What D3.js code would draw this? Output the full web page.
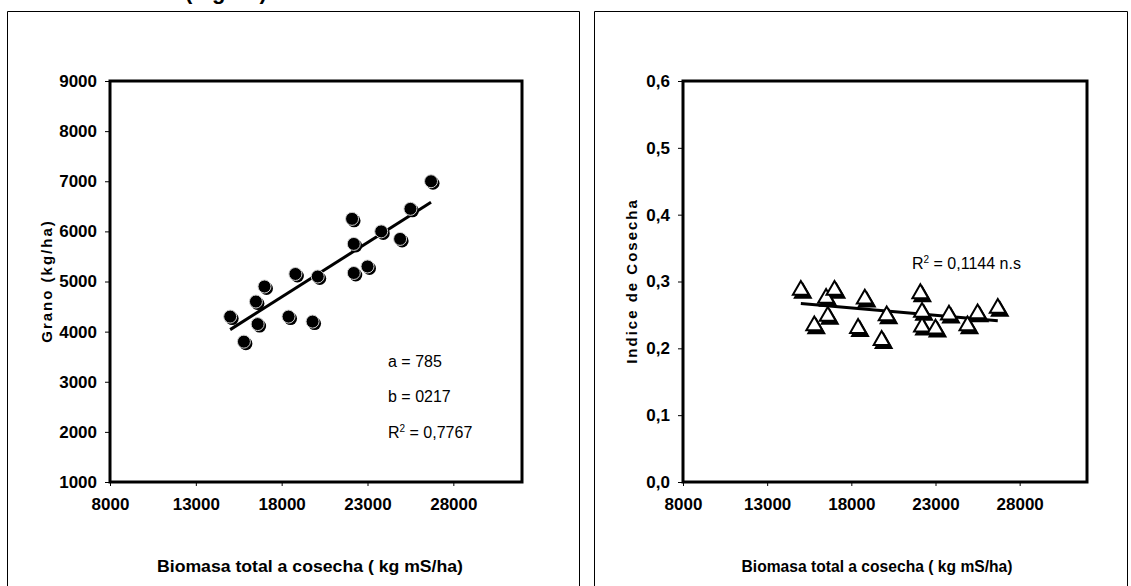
<!DOCTYPE html>
<html>
<head>
<meta charset="utf-8">
<title>Grano e Indice de Cosecha vs Biomasa</title>
<script src="https://d3js.org/d3.v7.min.js"></script>
<style>
body { margin: 0; background: #fff; }
text { font-family: "Liberation Sans Narrow", "Arial Narrow", "Liberation Sans", Arial, sans-serif; }
</style>
</head>
<body>
<svg id="svgMain" width="1131" height="586"></svg>
<script>
// data
const biomasa = [15000, 15800, 16600, 16500, 17000, 18400, 18800, 19800, 20100, 22100, 22200, 22200, 23000, 23800, 24900, 25500, 26700];
const grano   = [4300, 3800, 4150, 4600, 4900, 4300, 5150, 4200, 5100, 6250, 5750, 5170, 5300, 6000, 5850, 6450, 7000];
const indice  = [0.287, 0.234, 0.248, 0.275, 0.287, 0.230, 0.274, 0.212, 0.249, 0.282, 0.254, 0.232, 0.229, 0.250, 0.234, 0.252, 0.260];

// regression y = a + b*x
const granoFit  = [785, 0.217];
const indiceFit = [0.300, -0.0000022];

const xTicks = [8000, 13000, 18000, 23000, 28000];
const granoTicks = [1000, 2000, 3000, 4000, 5000, 6000, 7000, 8000, 9000];
const indiceTicks = [0, 0.1, 0.2, 0.3, 0.4, 0.5, 0.6];

const granoNotes = ['a = 785', 'b = 0217'];
const granoR2 = '0,7767';
const indiceR2 = '0,1144 n.s';

const svg = d3.select('#svgMain');

// caption, cut off at the top of the page
svg.append('text')
  .attr('x', 185).attr('y', -1)
  .style('font-family', 'Liberation Sans, Arial')
  .style('font-weight', 'bold')
  .style('font-size', '22px')
  .text('(Figura)');

// outer frames of the two panels
svg.append('path')
  .attr('d', 'M7.5,586 V11.5 H579.5 V586')
  .attr('fill', 'none').attr('stroke', '#000').attr('stroke-width', 1);
svg.append('path')
  .attr('d', 'M594.5,586 V11.5 H1127.5 V586')
  .attr('fill', 'none').attr('stroke', '#000').attr('stroke-width', 1);

function drawPanel(o) {
  const xs = d3.scaleLinear().domain([8000, 32000]).range([o.left, o.right]);
  const ys = d3.scaleLinear().domain(o.yDomain).range([482, 81]);

  // x axis
  const gx = svg.append('g')
    .attr('transform', 'translate(0,482)')
    .call(d3.axisBottom(xs).tickValues(xTicks).tickSize(4).tickPadding(12).tickFormat(d3.format('d')));
  gx.select('.domain').remove();
  // y axis
  const gy = svg.append('g')
    .attr('transform', `translate(${o.left},0)`)
    .call(d3.axisLeft(ys).tickValues(o.yTicks).tickSize(5).tickPadding(8).tickFormat(o.fmt));
  gy.select('.domain').remove();
  svg.selectAll('.tick text')
    .style('font-family', '"Liberation Sans Narrow", "Arial Narrow", "Liberation Sans", Arial, sans-serif')
    .style('font-weight', 'bold')
    .style('font-size', '17px')
    .attr('fill', '#000');
  svg.selectAll('.tick line').attr('stroke', '#000');

  // plot box
  svg.append('rect')
    .attr('x', o.left).attr('y', 81)
    .attr('width', o.right - o.left).attr('height', 401)
    .attr('fill', 'none').attr('stroke', '#000').attr('stroke-width', 3);

  // axis titles
  svg.append('text')
    .attr('x', o.xTitleX).attr('y', 572)
    .attr('text-anchor', 'middle')
    .attr('textLength', o.xTitleLen).attr('lengthAdjust', 'spacingAndGlyphs')
    .style('font-family', '"Liberation Sans", Arial, sans-serif')
    .style('font-weight', 'bold').style('font-size', '17px')
    .text('Biomasa total a cosecha ( kg mS/ha)');
  svg.append('text')
    .attr('transform', `translate(${o.yTitleX},281) rotate(-90)`)
    .attr('text-anchor', 'middle')
    .style('font-family', '"Liberation Sans", Arial, sans-serif')
    .style('font-weight', 'bold').style('font-size', '15px')
    .style('letter-spacing', '2px')
    .text(o.yTitle);

  // fitted line
  const ext = d3.extent(biomasa);
  svg.append('line')
    .attr('x1', xs(ext[0])).attr('y1', ys(o.fit[0] + o.fit[1] * ext[0]))
    .attr('x2', xs(ext[1])).attr('y2', ys(o.fit[0] + o.fit[1] * ext[1]))
    .attr('stroke', '#000').attr('stroke-width', 3);

  return { xs: xs, ys: ys };
}

// left panel: grano
const L = drawPanel({
  left: 110, right: 522, yDomain: [1000, 9000], yTicks: granoTicks,
  fmt: d3.format('d'), fit: granoFit,
  xTitleX: 310, xTitleLen: 306, yTitleX: 52, yTitle: 'Grano (kg/ha)'
});

const pts = biomasa.map((b, i) => ({ x: b, y: grano[i] }));
svg.append('g').selectAll('circle.sh').data(pts).enter()
  .append('circle')
    .attr('cx', d => L.xs(d.x) + 2).attr('cy', d => L.ys(d.y) + 2)
    .attr('r', 6.5).attr('fill', '#000');
svg.append('g').selectAll('circle.pt').data(pts).enter()
  .append('circle')
    .attr('cx', d => L.xs(d.x)).attr('cy', d => L.ys(d.y))
    .attr('r', 6.5).attr('fill', '#000')
    .attr('stroke', '#d0d0d0').attr('stroke-width', 1);

granoNotes.forEach((t, i) => {
  svg.append('text')
    .attr('x', 388).attr('y', 367 + i * 35)
    .style('font-size', '16px')
    .text(t);
});
const r2a = svg.append('text').attr('x', 388).attr('y', 438).style('font-size', '16px');
r2a.append('tspan').text('R');
r2a.append('tspan').attr('dy', -6).style('font-size', '10px').text('2');
r2a.append('tspan').attr('dy', 6).text(' = ' + granoR2);

// right panel: indice de cosecha
const R = drawPanel({
  left: 683, right: 1087, yDomain: [0, 0.6], yTicks: indiceTicks,
  fmt: d => d3.format('.1f')(d).replace('.', ','), fit: indiceFit,
  xTitleX: 877, xTitleLen: 271, yTitleX: 637, yTitle: 'Indice de Cosecha'
});

const tri = d3.symbol().type(d3.symbolTriangle).size(110);
const hi = biomasa.map((b, i) => ({ x: b, y: indice[i] }));
svg.append('g').selectAll('path').data(hi).enter()
  .append('path')
    .attr('d', tri)
    .attr('transform', d => `translate(${R.xs(d.x) + 2},${R.ys(d.y) + 3})`)
    .attr('fill', '#000').attr('stroke', '#000').attr('stroke-width', 2);
svg.append('g').selectAll('path').data(hi).enter()
  .append('path')
    .attr('d', tri)
    .attr('transform', d => `translate(${R.xs(d.x)},${R.ys(d.y)})`)
    .attr('fill', '#fff').attr('stroke', '#000').attr('stroke-width', 2);

const r2b = svg.append('text').attr('x', 912).attr('y', 269).style('font-size', '16px');
r2b.append('tspan').text('R');
r2b.append('tspan').attr('dy', -6).style('font-size', '10px').text('2');
r2b.append('tspan').attr('dy', 6).text(' = ' + indiceR2);
</script>
</body>
</html>
